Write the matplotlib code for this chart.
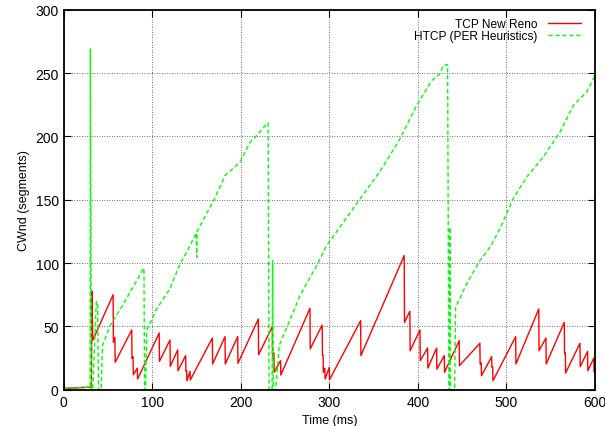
import matplotlib
matplotlib.use("Agg")
import matplotlib.pyplot as plt

plt.rcParams['font.family'] = ['Liberation Sans', 'DejaVu Sans']

# TCP New Reno cwnd trace (time ms, segments)
reno_t = [0, 30, 31.5, 32, 33, 56, 56.3, 58, 58.3, 77, 77.3, 78.5, 78.8, 83.3, 83.6,
          108, 108.3, 120.2, 120.5, 128.9, 129.2, 137.9, 138.2, 139, 139.3, 142.8, 143.1,
          168, 168.3, 182.3, 182.6, 196.6, 196.9, 219.9, 220.2, 235.7, 236, 237.5, 237.8,
          245, 245.3, 278.2, 278.5, 292, 292.3, 293, 293.3, 295, 295.3, 300, 300.3,
          335.4, 335.7, 384.6, 384.9, 391, 391.3, 402.4, 402.7, 411, 411.3, 421.2, 421.5,
          429.8, 430.1, 446.7, 447, 470, 470.3, 471.5, 471.8, 483.3, 483.6, 484.5, 484.8,
          510.4, 510.7, 536.5, 536.8, 544.6, 544.9, 565.3, 565.6, 566.5, 566.8, 583, 583.3,
          591.6, 591.9, 598.7, 599, 600]
reno_w = [1, 2, 2, 78, 39, 75, 37.4, 41.4, 21.6, 47.2, 24.8, 26, 11.8, 17, 8.4,
          44.8, 22.4, 39.3, 18.5, 31.4, 15, 26.9, 14.5, 15, 7.1, 14.5, 7.7,
          40.8, 20.3, 41.9, 20.3, 41.9, 20.8, 55.8, 27.6, 49.8, 24.8, 29, 13.7,
          22.9, 11.6, 64.3, 32.2, 51.1, 27.4, 27.4, 13.7, 17, 8.4, 17.7, 7.9,
          54.5, 26.9, 105.9, 53.2, 61.9, 30.8, 47.2, 22.9, 32.9, 17.1, 32.9, 16.3,
          26.9, 13.7, 38.7, 19, 36.6, 20.3, 21, 11, 26.1, 17.7, 18, 7.1,
          41.9, 20.3, 63.7, 30.8, 40.8, 20.3, 53.2, 28.8, 29, 13.2, 36.6, 18.2,
          30.3, 15, 25, 14, 15]

# HTCP (PER heuristics) cwnd trace
htcp_t = [0, 30, 30.3, 31.5, 33, 37, 38.5, 39.5, 42.5, 44, 52.5, 61.9, 68, 75, 82.6, 90,
          90.8, 91.5, 92.5, 94, 105, 120, 131.5, 139, 150, 150.3, 150.6, 160, 171, 182.3,
          199.2, 210.6, 219.9, 229.3, 231, 232, 235.5, 236, 237, 239.5, 243.5, 267, 285.8,
          297, 312, 334.6, 357, 379.8, 398.6, 415.6, 425, 428.7, 433.6, 435, 436, 436.3,
          436.8, 441.5, 442.6, 455, 470, 481.4, 492.7, 507.7, 522.8, 541.5, 560.4, 575.4,
          590.5, 600]
htcp_w = [1, 2, 269, 0, 0, 69.5, 69.5, 0, 0, 34.8, 50.5, 61.1, 68, 77, 86, 95.3,
          96, 0, 0, 47, 63.7, 79.5, 99.3, 108.5, 124, 104.5, 124.5, 137, 151.4, 169,
          179.6, 195.4, 202, 209.9, 210.7, 0, 0, 102, 0, 0, 34.8, 74.3, 98,
          113.7, 128.3, 150.6, 172, 198, 224.3, 244, 249.4, 256, 256.7, 0, 0, 128,
          0, 0, 65, 83.5, 101.9, 112.5, 127, 151, 167.8, 183.6, 203.3, 224.3,
          235, 248]

fig = plt.figure(figsize=(6.05, 4.27), dpi=100)
ax = fig.add_axes([0.105, 0.085, 0.8785, 0.89])

ax.plot(reno_t, reno_w, color='#ff0000', lw=1.0, label='TCP New Reno')
ax.plot(htcp_t, htcp_w, color='#00ff00', lw=1.0, ls=(0, (3, 2)),
        label='HTCP (PER Heuristics)')

ax.set_xlim(0, 600)
ax.set_ylim(0, 300)
ax.set_xticks(range(0, 601, 100))
ax.set_yticks(range(0, 301, 50))
ax.grid(True, color='#404040', ls=(0, (1, 2)), lw=0.6)
ax.tick_params(direction='in', top=True, right=True, labelsize=10, length=5)
for s in ax.spines.values():
    s.set_linewidth(1.3)

ax.set_xlabel('Time (ms)', fontsize=9)
ax.set_ylabel('CWnd (segments)', fontsize=9)

ax.legend(loc='upper right', bbox_to_anchor=(0.983, 0.99), frameon=False,
          markerfirst=False, fontsize=8.6, handlelength=2.8, handletextpad=0.85,
          borderpad=0.2, borderaxespad=0.2, labelspacing=0.0)

fig.savefig('out.png', dpi=100)
